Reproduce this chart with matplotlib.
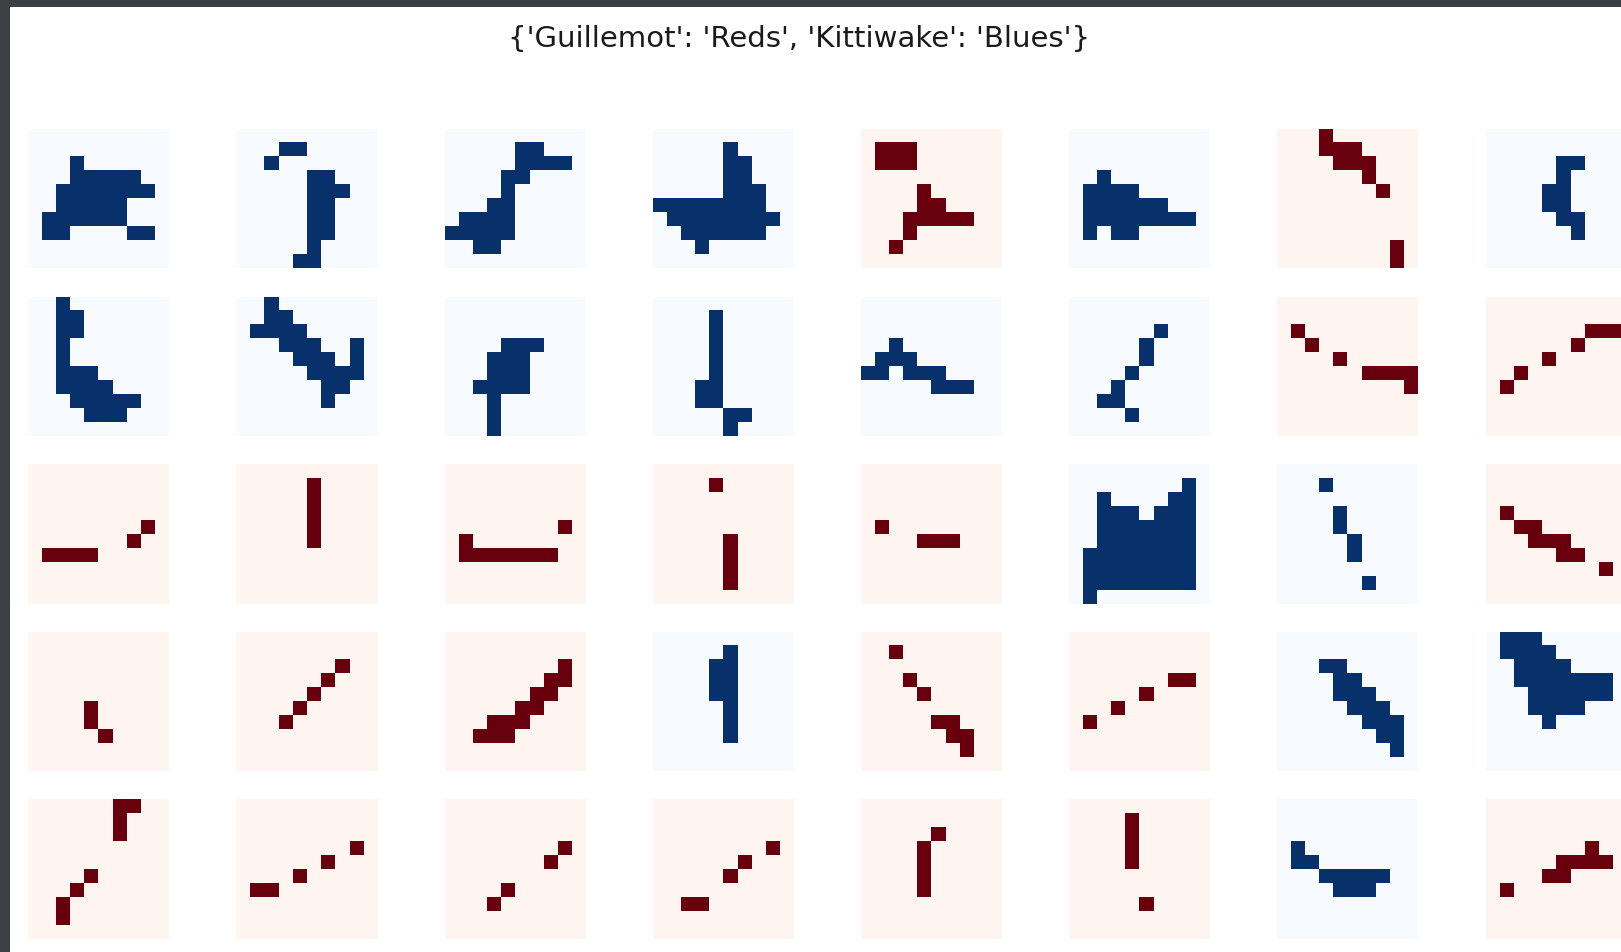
import matplotlib
matplotlib.use("Agg")
import matplotlib.pyplot as plt
import numpy as np
from matplotlib.patches import Rectangle

title = "{'Guillemot': 'Reds', 'Kittiwake': 'Blues'}"
species_cmap = {'Guillemot': 'Reds', 'Kittiwake': 'Blues'}

# species for each panel, row by row (G = Guillemot, K = Kittiwake)
species_rows = [
    ['K', 'K', 'K', 'K', 'G', 'K', 'G', 'K'],
    ['K', 'K', 'K', 'K', 'K', 'K', 'G', 'G'],
    ['G', 'G', 'G', 'G', 'G', 'K', 'K', 'G'],
    ['G', 'G', 'G', 'K', 'G', 'G', 'K', 'K'],
    ['G', 'G', 'G', 'G', 'G', 'G', 'K', 'G'],
]

E = '..........'
masks_row0 = [
    [E, E, '...#......', '...#####..', '..#######.', '..#####...', '.######...', '.##....##.', E, E],
    [E, '...##.....', '..#.......', '.....##...', '.....###..', '.....##...', '.....##...', '.....##...', '.....#....', '....##....'],
    [E, '.....##...', '.....####.', '....##....', '....#.....', '...##.....', '.####.....', '#####.....', '..##......', E],
    [E, '.....#....', '.....##...', '.....##...', '.....###..', '########..', '.########.', '..######..', '...#......', E],
    [E, '.###......', '.###......', E, '....#.....', '....##....', '...#####..', '...#......', '..#.......', E],
    [E, E, E, '..#.......', '.####.....', '.######...', '.########.', '.#.##.....', E, E],
    ['...#......', '...###....', '....###...', '......#...', '.......#..', E, E, E, '........#.', '........#.'],
    [E, E, '.....##...', '.....#....', '....##....', '....##....', '.....##...', '......#...', E, E],
]
masks_row1 = [
    ['..#.......', '..##......', '..##......', '..#.......', '..#.......', '..###.....', '..####....', '...#####..', '....###...', E],
    ['..#.......', '..##......', '.####.....', '...###..#.', '....###.#.', '.....####.', '......##..', '......#...', E, E],
    [E, E, E, '....###...', '...###....', '...###....', '..####....', '...#......', '...#......', '...#......'],
    [E, '....#.....', '....#.....', '....#.....', '....#.....', '....#.....', '...##.....', '...##.....', '.....##...', '.....#....'],
    [E, E, E, '..#.......', '.###......', '##.###....', '.....###..', E, E, E],
    [E, E, '......#...', '.....#....', '.....#....', '....#.....', '...#......', '..##......', '....#.....', E],
    [E, E, '.#........', '..#.......', '....#.....', '......####', '.........#', E, E, E],
    [E, E, '.......###', '......#...', '....#.....', '..#.......', '.#........', E, E, E],
]
masks_row2 = [
    [E, E, E, E, '........#.', '.......#..', '.####.....', E, E, E],
    [E, '.....#....', '.....#....', '.....#....', '.....#....', '.....#....', E, E, E, E],
    [E, E, E, E, '........#.', '.#........', '.#######..', E, E, E],
    [E, '....#.....', E, E, E, '.....#....', '.....#....', '.....#....', '.....#....', E],
    [E, E, E, E, '.#........', '....###...', E, E, E, E],
    [E, '........#.', '..#....##.', '..###.###.', '..#######.', '..#######.', '.########.', '.########.', '.########.', '.#........'],
    [E, '...#......', E, '....#.....', '....#.....', '.....#....', '.....#....', E, '......#...', E],
    [E, E, E, '.#........', '..##......', '...###....', '.....##...', '........#.', E, E],
]
masks_row3 = [
    [E, E, E, E, E, '....#.....', '....#.....', '.....#....', E, E],
    [E, E, '.......#..', '......#...', '.....#....', '....#.....', '...#......', E, E, E],
    [E, E, '........#.', '.......##.', '......##..', '.....##...', '...###....', '..###.....', E, E],
    [E, '.....#....', '....##....', '....##....', '....##....', '.....#....', '.....#....', '.....#....', E, E],
    [E, '..#.......', E, '...#......', '....#.....', E, '.....##...', '......##..', '.......#..', E],
    [E, E, E, '.......##.', '.....#....', '...#......', '.#........', E, E, E],
    [E, E, '...##.....', '....##....', '....###...', '.....###..', '......###.', '.......##.', '........#.', E],
    ['.###......', '.####.....', '..####....', '..#######.', '...######.', '...####...', '....#.....', E, E, E],
]
masks_row4 = [
    ['......##..', '......#...', '......#...', E, E, '....#.....', '...#......', '..#.......', '..#.......', E],
    [E, E, E, '........#.', '......#...', '....#.....', '.##.......', E, E, E],
    [E, E, E, '........#.', '.......#..', E, '....#.....', '...#......', E, E],
    [E, E, E, '........#.', '......#...', '.....#....', E, '..##......', E, E],
    [E, E, '.....#....', '....#.....', '....#.....', '....#.....', '....#.....', E, E, E],
    [E, '....#.....', '....#.....', '....#.....', '....#.....', E, E, '.....#....', E, E],
    [E, E, E, '.#........', '.##.......', '...#####..', '....###...', E, E, E],
    [E, E, E, '.......#..', '.....####.', '....##....', '.#........', E, E, E],
]
masks_rows = [masks_row0, masks_row1, masks_row2, masks_row3, masks_row4]

W, H = 1621, 952
fig = plt.figure(figsize=(W / 100, H / 100), dpi=100)
fig.patch.set_facecolor('white')
dark = '#3d4043'
# window border visible at top and left of the screenshot
fig.patches.append(Rectangle((0, 1 - 7 / H), 1, 7 / H, transform=fig.transFigure,
                             facecolor=dark, edgecolor='none', zorder=10))
fig.patches.append(Rectangle((0, 0), 10 / W, 1, transform=fig.transFigure,
                             facecolor=dark, edgecolor='none', zorder=10))

fig.text(799 / W, 1 - 38.5 / H, title, ha='center', va='center',
         fontsize=21, color='#1a1a1a')

x0, dx, aw = 28.3, 208.2, 141.0
y0, dy, ah = 129.0, 167.6, 139.5
names = {'G': 'Guillemot', 'K': 'Kittiwake'}
for r, (sp_row, m_row) in enumerate(zip(species_rows, masks_rows)):
    for c, (sp, m) in enumerate(zip(sp_row, m_row)):
        arr = np.array([[1.0 if ch == '#' else 0.0 for ch in line] for line in m])
        left = x0 + c * dx
        top = y0 + r * dy
        ax = fig.add_axes([left / W, (H - top - ah) / H, aw / W, ah / H])
        ax.imshow(arr, cmap=species_cmap[names[sp]], vmin=0, vmax=1,
                  interpolation='nearest', aspect='auto')
        ax.axis('off')

fig.savefig('out.png', dpi=100)
